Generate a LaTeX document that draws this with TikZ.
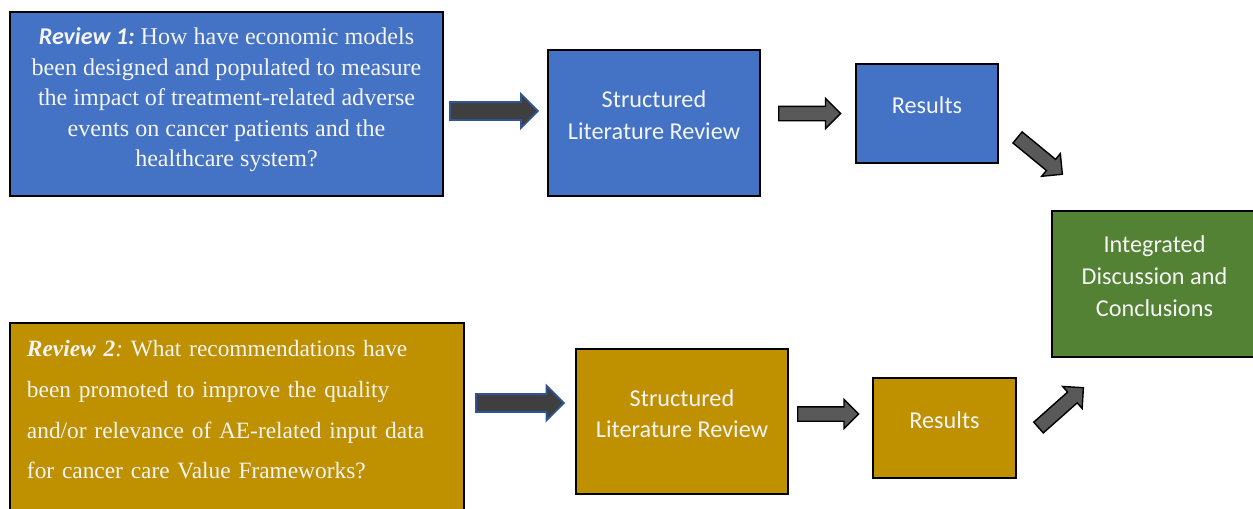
\documentclass[tikz,border=0pt]{standalone}
\usepackage{xcolor}
\usepackage{fontspec}
\setmainfont{Liberation Serif}
\setsansfont{Carlito}
\usepackage{tikz}
\usetikzlibrary{shapes.arrows}
\usetikzlibrary{positioning}
\definecolor{boxblue}{HTML}{4472C4}
\definecolor{boxgold}{HTML}{BF9000}
\definecolor{boxgreen}{HTML}{548235}
\definecolor{arrowdark}{HTML}{3F3F3F}
\definecolor{arrowgrey}{HTML}{595959}
\definecolor{arrowline}{HTML}{2F5597}
\frenchspacing

\begin{document}
\begin{tikzpicture}[
	main box/.style={draw=black, line width=1.1pt, inner sep=0pt, text=white!96!black},
	quest box/.style={main box, font=\fontsize{13.7}{17.3}\selectfont, align=center, text depth=0.27cm},
	flow box/.style={main box, font=\sffamily\fontsize{13.8}{18}\selectfont, align=center, text depth=0.32cm},
	dark arrow/.style={single arrow, anchor=tail, draw=arrowline, line width=1pt, fill=arrowdark, inner xsep=0pt, single arrow head indent=0pt},
	grey arrow/.style={single arrow, anchor=tail, draw=black, line width=0.8pt, fill=arrowgrey, inner xsep=0pt, single arrow head indent=0pt}]
			\fill[white] (0,0) rectangle (25.06,-10.16);
			\useasboundingbox (0,0) rectangle (25.06,-10.16);
			
			% Nodes
			\node[quest box, fill=boxblue, minimum width=8.66cm, minimum height=3.68cm] (rev1) at (4.53,-2.08) {{\sffamily\bfseries\itshape Review 1:} How have economic models\\ been designed and populated to measure\\ the impact of treatment-related adverse\\ events on cancer patients and the\\ healthcare system?};
			\node[flow box, fill=boxblue, minimum width=4.24cm, minimum height=2.92cm] (slr1) at (13.08,-2.46) {Structured\\ Literature Review};
			\node[flow box, fill=boxblue, minimum width=2.84cm, minimum height=1.98cm] (res1) at (18.54,-2.27) {Results};
			
			\node[flow box, fill=boxgreen, minimum width=4.1cm, minimum height=2.92cm] (int) at (23.09,-5.68) {Integrated\\ Discussion and\\ Conclusions};
			
			\node[main box, fill=boxgold, minimum width=9.08cm, minimum height=3.78cm, text width=8.4cm, align=left, text depth=2.78cm, font=\fontsize{13.3}{23.3}\selectfont] (rev2) at (4.74,-8.35) {{\bfseries\itshape Review 2}\textit{:} What recommendations have\\ been promoted to improve the quality\\ and/or relevance of AE-related input data\\ for cancer care Value Frameworks?};
			\node[flow box, fill=boxgold, minimum width=4.24cm, minimum height=2.90cm] (slr2) at (13.64,-8.43) {Structured\\ Literature Review};
			\node[flow box, fill=boxgold, minimum width=2.86cm, minimum height=2.0cm] (res2) at (18.89,-8.56) {Results};
			
			% Arrows
			\node[dark arrow, inner ysep=0.16cm, minimum height=1.76cm, single arrow head extend=0.16cm] (a1) at (8.98,-2.22) {};
			\node[grey arrow, inner ysep=0.13cm, minimum height=1.24cm, single arrow head extend=0.16cm] (a2) at (15.56,-2.27) {};
			\node[grey arrow, inner ysep=0.13cm, minimum height=1.16cm, single arrow head extend=0.15cm, rotate=-39.4] (a3) at (20.34,-2.74) {};
			
			\node[dark arrow, inner ysep=0.16cm, minimum height=1.76cm, single arrow head extend=0.17cm] (b1) at (9.5,-8.06) {};
			\node[grey arrow, inner ysep=0.13cm, minimum height=1.22cm, single arrow head extend=0.15cm] (b2) at (15.94,-8.28) {};
			\node[grey arrow, inner ysep=0.13cm, minimum height=1.2cm, single arrow head extend=0.15cm, rotate=41.6] (b3) at (20.76,-8.56) {};
			
		\end{tikzpicture}
\end{document}
